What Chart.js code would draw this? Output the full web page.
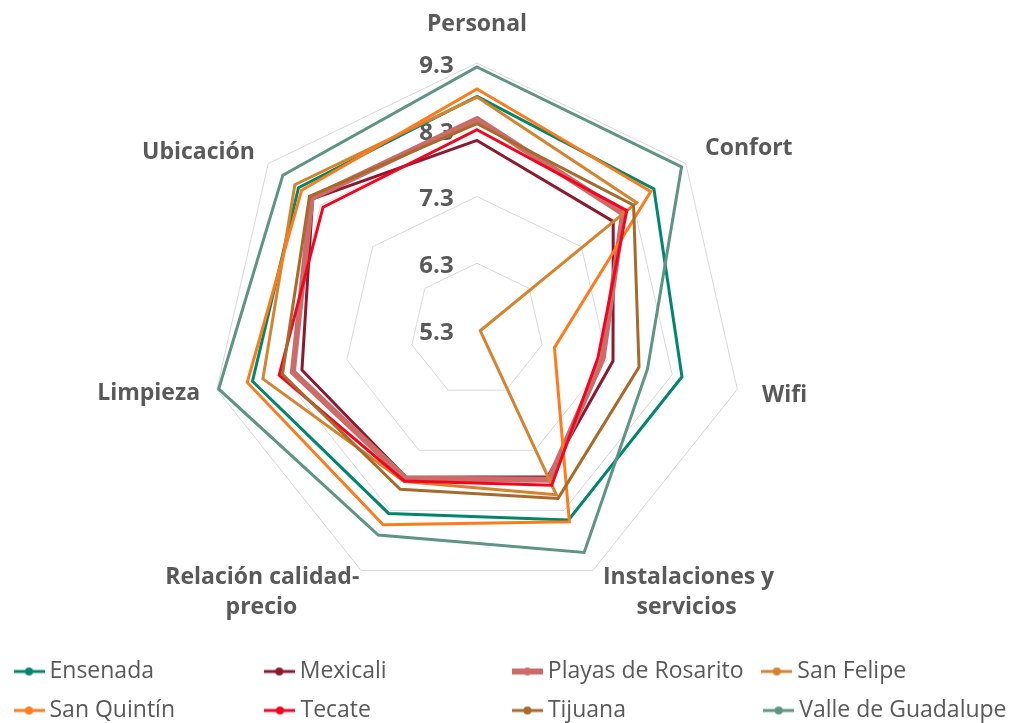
<!DOCTYPE html>
<html><head><meta charset="utf-8">
<script src="https://cdn.jsdelivr.net/npm/chart.js@4.4.0/dist/chart.umd.min.js"></script>
<style>html,body{margin:0;padding:0;background:#fff;}</style>
</head><body>
<canvas id="c" width="1011" height="723"></canvas>
<script>
// ---- data ----
const categories = ['Personal', 'Confort', 'Wifi', ['Instalaciones y', 'servicios'], ['Relación calidad-', 'precio'], 'Limpieza', 'Ubicación'];
const seriesNames = ['Ensenada', 'Mexicali', 'Playas de Rosarito', 'San Felipe', 'San Quintín', 'Tecate', 'Tijuana', 'Valle de Guadalupe'];
const ensenada   = [8.80, 8.69, 8.45, 8.46, 8.35, 8.75, 8.72];
const mexicali   = [8.14, 7.91, 7.39, 7.74, 7.75, 7.99, 8.45];
const playas     = [8.46, 8.10, 7.23, 7.79, 7.77, 8.13, 8.47];
const sanFelipe  = [8.79, 8.36, 5.35, 8.04, 7.82, 8.59, 8.79];
const sanQuintin = [8.91, 8.63, 6.49, 8.49, 8.54, 8.83, 8.66];
const tecate     = [8.30, 8.17, 7.16, 7.88, 7.81, 8.34, 8.25];
const tijuana    = [8.39, 8.30, 7.79, 8.10, 7.95, 8.29, 8.51];
const valle      = [9.24, 9.22, 7.92, 9.00, 8.71, 9.27, 9.02];
const tickValues = [5.3, 6.3, 7.3, 8.3, 9.3];

// ---- styles ----
const seriesValues = [ensenada, mexicali, playas, sanFelipe, sanQuintin, tecate, tijuana, valle];
const seriesColors = ['#00876B', '#8B1A30', '#CB6C69', '#D6832F', '#FF7A1C', '#F20520', '#A86A2A', '#5E9483'];
const seriesWidths = [3, 3, 6, 3, 3, 3, 3, 3];
const TEXT = '#595959';
const FAM = "'Open Sans', 'DejaVu Sans', sans-serif";
const CX = 477, CY = 330, R = 267;
const FS = 24;      // tick font
const PFS = 23;     // point label font
const EXTRA = (FS + 4) / 2;
const labelPad = [25, 10.6, 11.3, -23.5, -23.5, 3.1, 3.0];
const legendTextW = [206, 204, 206];
const tickFontStr = "bold " + FS + "px " + FAM;
const plFontStr = "bold " + PFS + "px " + FAM;
const lgFontStr = "normal 23px " + FAM;

const mctx = document.createElement('canvas').getContext('2d');
function tw(t, f) { mctx.font = f; return mctx.measureText(t).width; }
function padEnd(t, target, f) {
  let s = t, n = 0;
  while (n < 300 && tw(s + ' ', f) <= target) { s += ' '; n++; }
  n = 0;
  while (n < 300) { const ns = s + '\u200A'; const nw = tw(ns, f); if (nw > target || nw <= tw(s, f)) break; s = ns; n++; }
  return s;
}
function padStart(t, target, f) {
  let s = t, n = 0;
  while (n < 300 && tw(' ' + s, f) <= target) { s = ' ' + s; n++; }
  n = 0;
  while (n < 300) { const ns = '\u200A' + s; const nw = tw(ns, f); if (nw > target || nw <= tw(s, f)) break; s = ns; n++; }
  return s;
}
function makeMarker(color, lw) {
  const c = document.createElement('canvas');
  c.width = 31; c.height = 12;
  const x = c.getContext('2d');
  x.strokeStyle = color; x.lineWidth = lw;
  x.beginPath(); x.moveTo(0, 6); x.lineTo(31, 6); x.stroke();
  x.fillStyle = color; x.beginPath(); x.arc(15.5, 6, 4, 0, Math.PI * 2); x.fill();
  return c;
}

const datasets = seriesNames.map((name, i) => ({
  label: name,
  data: seriesValues[i],
  borderColor: seriesColors[i],
  backgroundColor: seriesColors[i],
  borderWidth: seriesWidths[i],
  fill: false,
  pointRadius: 0,
  pointHoverRadius: 0,
  tension: 0,
  order: -i
}));

function pointLabelText(label, index) {
  if (!Array.isArray(label)) return label;
  const D = R + EXTRA + labelPad[index];
  const ang = index * 2 * Math.PI / categories.length - Math.PI / 2;
  const px = CX + D * Math.cos(ang);
  const w1 = tw(label[0], plFontStr), w2 = tw(label[1], plFontStr);
  if (Math.cos(ang) > 0) {
    const lead1 = 603 - px;
    const lead2 = lead1 + (w1 - w2) / 2;
    return [padStart(label[0], w1 + lead1, plFontStr), padStart(label[1], w2 + lead2, plFontStr)];
  } else {
    const trail1 = px - 357;
    const trail2 = trail1 + (w1 - w2) / 2;
    return [padEnd(label[0], w1 + trail1, plFontStr), padEnd(label[1], w2 + trail2, plFontStr)];
  }
}

new Chart(document.getElementById('c'), {
  type: 'radar',
  data: { labels: categories, datasets },
  options: {
    responsive: false,
    animation: false,
    events: [],
    layout: { padding: { left: 4, right: -30, top: 0, bottom: -9 } },
    elements: { line: { tension: 0 } },
    plugins: {
      tooltip: { enabled: false },
      legend: {
        position: 'bottom',
        align: 'start',
        labels: {
          usePointStyle: true,
          pointStyleWidth: 18,
          padding: 16,
          color: TEXT,
          font: { family: FAM, size: 23 },
          generateLabels: (chart) => chart.data.datasets.map((ds, i) => ({
            text: (i % 4 === 3) ? ds.label : padEnd(ds.label, legendTextW[i % 4], lgFontStr),
            fillStyle: ds.borderColor,
            strokeStyle: ds.borderColor,
            lineWidth: 0,
            pointStyle: makeMarker(ds.borderColor, seriesWidths[i]),
            hidden: false,
            datasetIndex: i,
            fontColor: TEXT
          }))
        }
      }
    },
    scales: {
      r: {
        min: tickValues[0],
        max: tickValues[tickValues.length - 1],
        angleLines: { display: false },
        grid: { color: '#D9D9D9', lineWidth: 1 },
        ticks: {
          stepSize: 1,
          showLabelBackdrop: false,
          color: TEXT,
          font: { family: FAM, size: FS, weight: 'bold', lineHeight: 3 / FS },
          callback: (v) => {
            const t = Number(v).toFixed(1);
            const w = tw(t, tickFontStr);
            return ['', padEnd(t, 2 * (CX - 452.7 + w), tickFontStr)];
          }
        },
        afterBuildTicks: (scale) => {
          scale.ticks = [{ value: tickValues[0] }].concat(tickValues.map(v => ({ value: v })));
        },
        pointLabels: {
          color: TEXT,
          padding: (ctx) => labelPad[ctx.index],
          font: (ctx) => ({ family: FAM, size: PFS, weight: 'bold', lineHeight: Array.isArray(categories[ctx.index]) ? 30 / PFS : 0.001 }),
          callback: (label, index) => pointLabelText(label, index)
        },
        afterFit: (scale) => {
          const ox = scale.xCenter, oy = scale.yCenter, orr = scale.drawingArea;
          scale.xCenter = CX; scale.yCenter = CY; scale.drawingArea = R;
          (scale._pointLabelItems || []).forEach((it, i) => {
            const a = scale.getIndexAngle(i) - Math.PI / 2;
            const dx = CX - ox + (R - orr) * Math.cos(a);
            const dy = CY - oy + (R - orr) * Math.sin(a);
            it.x += dx; it.left += dx; it.right += dx;
            it.y += dy; it.top += dy; it.bottom += dy;
          });
        }
      }
    }
  }
});
</script>
</body></html>
